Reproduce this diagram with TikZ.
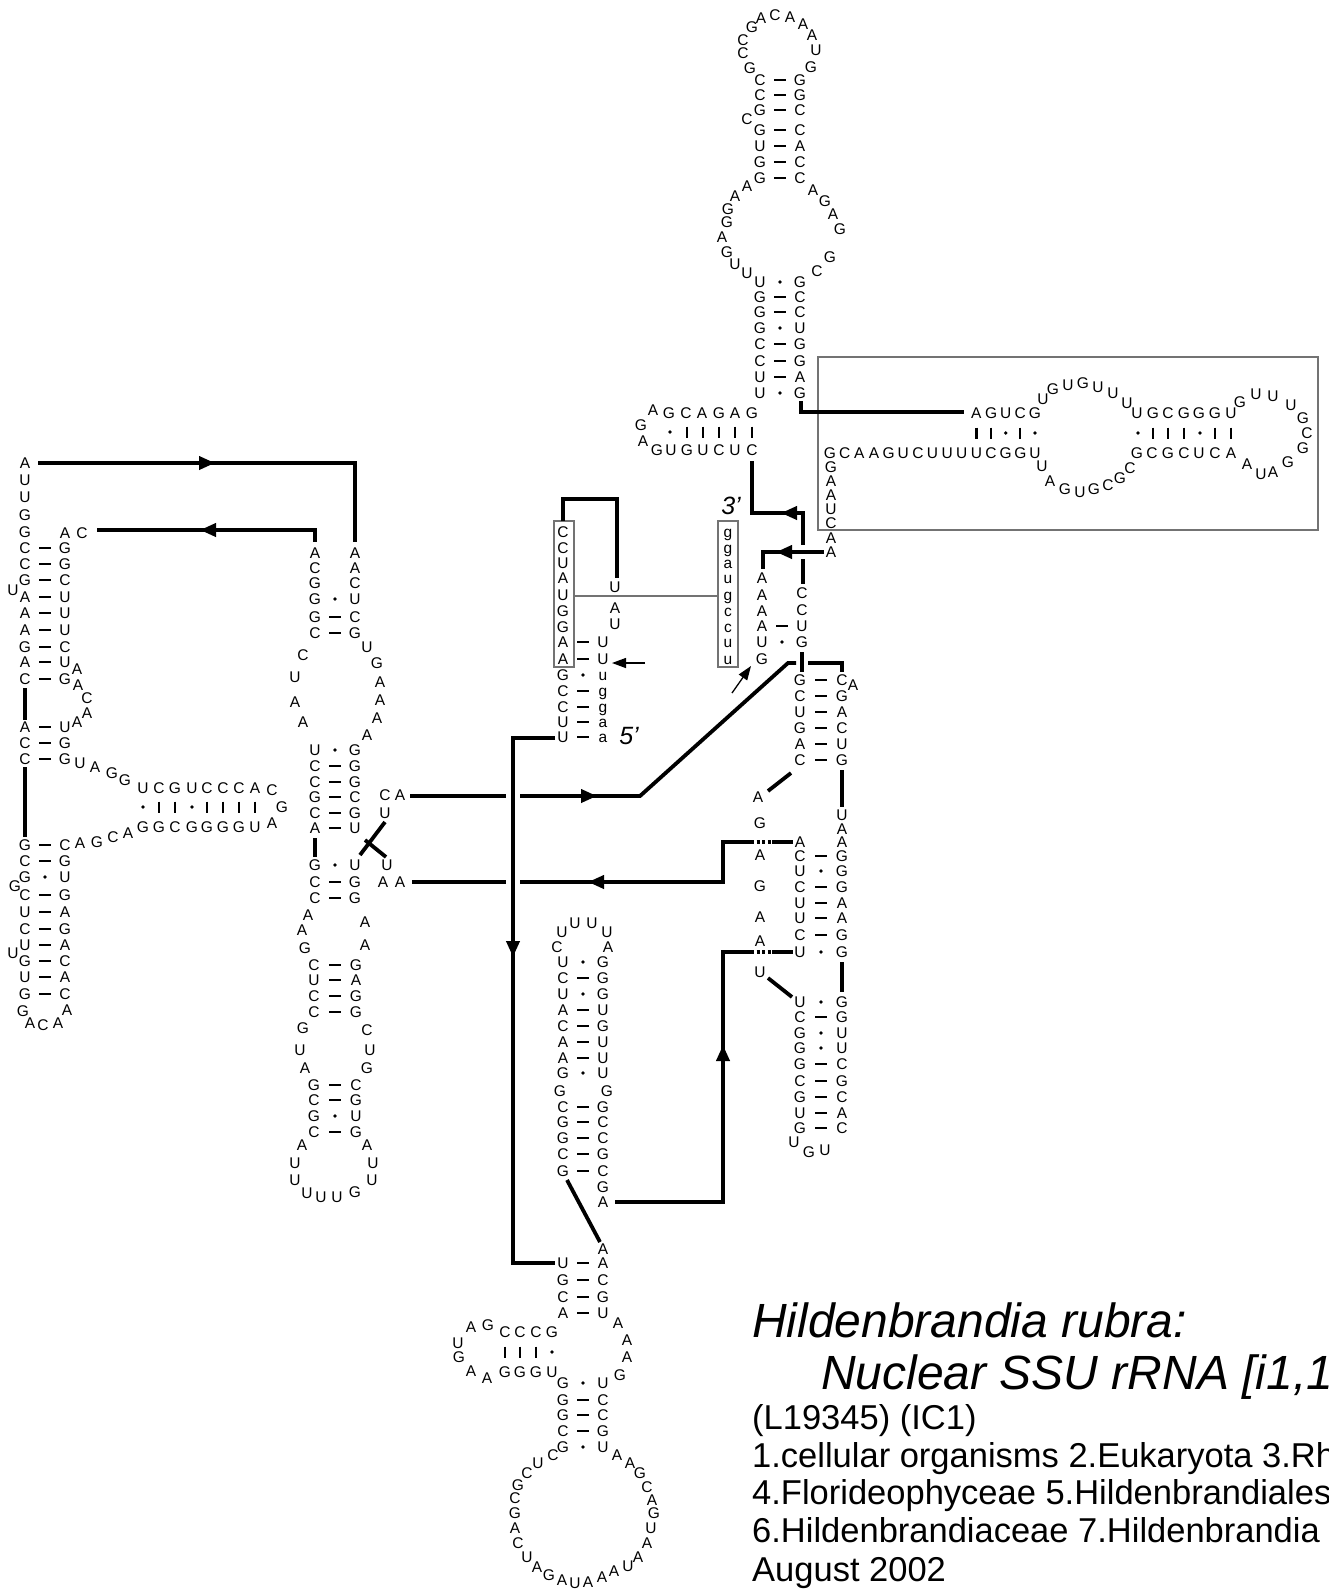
\documentclass[tikz,border=0pt]{standalone}
\usepackage{fontspec}
\setmainfont{Liberation Sans}
\usetikzlibrary{arrows.meta}
\newcounter{ntc}
\tikzset{
  nt/.style={inner sep=0pt,outer sep=0pt,font=\fontsize{15.5}{15.5}\selectfont,text height=11pt,text depth=0pt},
  ln/.style={line width=3.8pt},
  bp/.style={line width=2.2pt},
  gbox/.style={draw=black!55,line width=1.4pt},
  gline/.style={draw=black!55,line width=1.4pt},
  bigtip/.style={-{Triangle[length=16pt,width=13pt]},line width=3.8pt},
  smalltip/.style={-{Triangle[length=14pt,width=10pt]},line width=1.3pt},
  dotseg/.style={line width=3.8pt,dash pattern=on 3pt off 2.5pt},
  lbl/.style={inner sep=0pt,anchor=base west},
}
\newcommand\B[3]{\stepcounter{ntc}\node[nt] (n\arabic{ntc}) at (#1,#2) {#3};}
\newcommand\PR[6]{\B{#1}{#3}{#4}\B{#2}{#3}{#6}\if#5d\draw[bp] ({(#1+#2)/2-6},#3) -- ({(#1+#2)/2+6},#3);\else\fill ({(#1+#2)/2},#3) circle (1.9);\fi}
\newcommand\VB[2]{\draw[bp] (#1,#2-5.5) -- (#1,#2+5.5);}
\newcommand\DT[2]{\fill (#1,#2) circle (1.9);}
\begin{document}
\begin{tikzpicture}[x=1pt,y=-1pt]
\useasboundingbox (0,0) rectangle (1329,1591);
\fill[white] (0,0) rectangle (1329,1591);
% ===== top hairpin =====
\foreach \x/\y/\l in {750/68/G,743/53/C,743/40/C,752/27/G,761/18/A,775/15/C,790/17/A,803/24/A,812/35/A,816/50/U,811/67/G}{\B{\x}{\y}{\l}}
\foreach \y/\l/\m/\r in {80/C/d/G,95/C/d/G,110/G/d/C,130/G/d/C,146/U/d/A,162/G/d/C,178/G/d/C}{\PR{760}{800}{\y}{\l}{\m}{\r}}
\B{747}{119}{C}
\foreach \x/\y/\l in {747/186/A,735/196/A,728/209/G,727/222/G,722/237/A,727/252/G,735/264/U,747/273/U,813/190/A,825/201/G,833/214/A,840/229/G,830/257/G,817/271/C}{\B{\x}{\y}{\l}}
\foreach \y/\l/\m/\r in {282/U/o/G,297/G/d/C,312/G/d/C,328/G/o/U,344/C/d/G,361/C/d/G,377/U/d/A,393/U/o/G}{\PR{760}{800}{\y}{\l}{\m}{\r}}
% ===== helix H1 =====
\B{653}{410}{A}
\foreach \x/\l in {669/G,686/C,702/A,719/G,735/A,752/G}{\B{\x}{413}{\l}}
\foreach \x/\l in {657/G,671/U,687/G,703/U,719/C,735/U,752/C}{\B{\x}{450}{\l}}
\B{641}{425}{G}\B{643}{441}{A}
\DT{670}{432}
\foreach \x in {687,703,719,735,752}{\VB{\x}{432}}
% ===== box helix H2 =====
\draw[gbox] (818,357) rectangle (1318,530);
\foreach \l [count=\i from 0] in {G,C,A,A,G,U,C,U,U,U,U,C,G,G,U}{\B{830+\i*14.64}{453}{\l}}
\foreach \l [count=\i from 10] in {A,G,U,C,G}{\B{830+\i*14.64}{413}{\l}}
\foreach \i in {10,11,13}{\VB{830+\i*14.64}{433}}
\foreach \i in {12,14}{\DT{830+\i*14.64}{433}}
\foreach \x/\l in {1137/U,1153/G,1168/C,1184/G,1199/G,1215/G,1231/U}{\B{\x}{413}{\l}}
\foreach \x/\l in {1137/G,1152/C,1168/G,1184/C,1199/U,1215/C,1231/A}{\B{\x}{453}{\l}}
\foreach \x in {1153,1168,1184,1215,1231}{\VB{\x}{433}}
\foreach \x in {1138,1200}{\DT{\x}{433}}
\foreach \x/\y/\l in {1043/399/U,1053/389/G,1068/385/U,1083/383/G,1098/387/U,1113/393/U,1127/403/U}{\B{\x}{\y}{\l}}
\foreach \x/\y/\l in {1042/466/U,1050/481/A,1065/489/G,1080/492/U,1094/489/G,1108/485/C,1120/478/G,1130/468/C}{\B{\x}{\y}{\l}}
\foreach \x/\y/\l in {1240/402/G,1256/394/U,1273/396/U,1291/405/U,1303/418/G,1307/433/C,1303/448/G,1288/462/G,1273/472/A,1261/474/U,1247/464/A}{\B{\x}{\y}{\l}}
\foreach \y/\l in {467/G,481/A,495/A,509/U,523/C,538/A,552/A}{\B{831}{\y}{\l}}
% line stem2 -> box helix
\coordinate (k1) at (801,401); \coordinate (k2) at (801,412); \coordinate (k3) at (964,412);
\draw[ln] (k1) -- (k2) -- (k3);
% ===== centre: boxes =====
\foreach \y/\l in {532/C,548/C,563/U,578/A,595/U,611/G,627/G}{\B{563}{\y}{\l}}
\foreach \y/\l/\m/\r in {642/A/d/U,659/A/d/U,675/G/o/u,691/C/d/g,707/C/d/g,722/U/d/a,737/U/d/a}{\PR{563}{603}{\y}{\l}{\m}{\r}}
\foreach \y/\l in {587/U,608/A,624/U}{\B{615}{\y}{\l}}
\foreach \y/\l in {532/g,548/g,563/a,578/u,595/g,611/c,627/c,642/u,659/u}{\B{728}{\y}{\l}}
\draw[gbox] (554,521) rectangle (574,667);
\draw[gbox] (718,521) rectangle (738,667);
\coordinate (g1) at (574,596); \coordinate (g2) at (718,596);
\draw[gline] (g1) -- (g2);
\coordinate (t1) at (563,521); \coordinate (t2) at (563,499); \coordinate (t3) at (617,499); \coordinate (t4) at (617,578);
\draw[ln] (t1) -- (t2) -- (t3) -- (t4);
\node[inner sep=0pt,font=\fontsize{25}{25}\selectfont\itshape] (p3) at (731,506) {3’};
\node[inner sep=0pt,font=\fontsize{25}{25}\selectfont\itshape] (p5) at (629,736) {5’};
\coordinate (sa1) at (645,663); \coordinate (sa2) at (612,663);
\draw[smalltip] (sa1) -- (sa2);
\coordinate (sb1) at (732,693); \coordinate (sb2) at (751,666);
\draw[smalltip] (sb1) -- (sb2);
% ===== right stems =====
\foreach \y/\l in {578/A,595/A,611/A}{\B{762}{\y}{\l}}
\B{802}{593}{C}\B{802}{610}{C}
\PR{762}{802}{626}{A}{d}{U}
\PR{762}{802}{642}{U}{o}{G}
\B{762}{659}{G}
\coordinate (h1) at (752,461); \coordinate (h2) at (752,513); \coordinate (h3) at (803,513); \coordinate (h4) at (803,545);
\coordinate (h5) at (803,559); \coordinate (h6) at (803,584);
\draw[ln] (h1) -- (h2) -- (h3) -- (h4);
\draw[ln] (h5) -- (h6);
\draw[bigtip] (797,513) -- (781,513);
\coordinate (b1) at (824,552); \coordinate (b2) at (763,552); \coordinate (b3) at (763,569);
\draw[ln] (b1) -- (b2) -- (b3);
\draw[bigtip] (792,552) -- (776,552);
\coordinate (v1) at (802,652); \coordinate (v2) at (802,672);
\draw[ln] (v1) -- (v2);
\foreach \y/\l/\m/\r in {680/G/d/C,696/C/d/G,712/U/d/A,728/G/d/C,744/A/d/U,760/C/d/G}{\PR{800}{842}{\y}{\l}{\m}{\r}}
\B{853}{685}{A}
\B{758}{797}{A}
\coordinate (w1) at (768,791); \coordinate (w2) at (791,773);
\draw[ln] (w1) -- (w2);
\coordinate (r1) at (842,770); \coordinate (r2) at (842,807);
\draw[ln] (r1) -- (r2);
\B{842}{815}{U}\B{842}{829}{A}\B{842}{842}{A}\B{800}{842}{A}
\foreach \y/\l/\m/\r in {856/C/d/G,871/U/o/G,887/C/d/G,903/U/d/A,918/U/d/A,935/C/d/G,952/U/o/G}{\PR{800}{842}{\y}{\l}{\m}{\r}}
\foreach \y/\l in {823/G,855/A,886/G,917/A,941/A,972/U}{\B{760}{\y}{\l}}
\coordinate (u1) at (768,978); \coordinate (u2) at (792,997);
\draw[ln] (u1) -- (u2);
\coordinate (r3) at (842,962); \coordinate (r4) at (842,992);
\draw[ln] (r3) -- (r4);
\foreach \y/\l/\m/\r in {1002/U/o/G,1017/C/d/G,1033/G/o/U,1048/G/o/U,1064/G/d/C,1081/C/d/G,1097/G/d/C,1113/U/d/A,1128/G/d/C}{\PR{800}{842}{\y}{\l}{\m}{\r}}
\B{794}{1142}{U}\B{809}{1152}{G}\B{825}{1150}{U}
% ===== lower middle hairpin =====
\foreach \x/\y/\l in {557/947/C,562/932/U,575/923/U,592/923/U,607/932/U,608/947/A}{\B{\x}{\y}{\l}}
\foreach \y/\l/\m/\r in {962/U/o/G,978/C/d/G,994/U/o/G,1010/A/d/U,1026/C/d/G,1042/A/d/U,1058/A/d/U,1073/G/o/U,1107/C/d/G,1122/G/d/C,1138/G/d/C,1154/C/d/G,1171/G/d/C}{\PR{563}{603}{\y}{\l}{\m}{\r}}
\B{560}{1091}{G}\B{607}{1091}{G}
\B{603}{1187}{G}\B{603}{1202}{A}
\coordinate (dg1) at (567,1180); \coordinate (dg2) at (600,1242);
\draw[ln] (dg1) -- (dg2);
\B{603}{1249}{A}
% ===== bottom =====
\foreach \y/\l/\m/\r in {1263/U/d/A,1280/G/d/C,1297/C/d/G,1313/A/d/U}{\PR{563}{603}{\y}{\l}{\m}{\r}}
\foreach \x/\y/\l in {618/1323/A,627/1340/A,627/1357/A,620/1375/G}{\B{\x}{\y}{\l}}
\foreach \x/\l in {505/C,520/C,536/C,552/G}{\B{\x}{1332}{\l}}
\foreach \x/\l in {505/G,520/G,536/G,552/U}{\B{\x}{1372}{\l}}
\foreach \x in {505,520,536}{\VB{\x}{1352}}
\DT{552}{1352}
\foreach \x/\y/\l in {488/1325/G,471/1327/A,458/1343/U,459/1357/G,471/1371/A,487/1378/A}{\B{\x}{\y}{\l}}
\foreach \y/\l/\m/\r in {1383/G/o/U,1400/G/d/C,1415/G/d/C,1431/C/d/G,1447/G/o/U}{\PR{563}{603}{\y}{\l}{\m}{\r}}
\foreach \x/\y/\l in {553/1455/C,538/1463/U,527/1473/C,518/1485/G,515/1498/C,515/1513/G,515/1528/A,518/1543/C,527/1557/U,537/1567/A,549/1575/G,562/1580/A,575/1583/U,588/1582/A,602/1577/A,614/1571/A,628/1566/U,638/1557/A,647/1543/A,651/1528/U,654/1513/G,652/1500/A,647/1487/C,640/1473/G,630/1463/A,617/1455/A}{\B{\x}{\y}{\l}}
% ===== left helix =====
\foreach \y/\l in {463/A,480/U,497/U,515/G,532/G}{\B{25}{\y}{\l}}
\B{65}{533}{A}\B{82}{533}{C}
\foreach \y/\l/\m/\r in {548/C/d/G,564/C/d/G,580/G/d/C,597/A/d/U,613/A/d/U,630/A/d/U,647/G/d/C,662/A/d/U,679/C/d/G,727/A/d/U,743/C/d/G,759/C/d/G}{\PR{25}{65}{\y}{\l}{\m}{\r}}
\B{13}{590}{U}
\foreach \x/\y/\l in {77/669/A,78/685/A,87/698/C,87/713/A,77/722/A}{\B{\x}{\y}{\l}}
\foreach \x/\y/\l in {80/763/U,95/767/A,112/773/G,125/780/G}{\B{\x}{\y}{\l}}
\foreach \x/\l in {143/U,159/C,175/G,192/U,207/C,223/C,239/C,255/A}{\B{\x}{788}{\l}}
\foreach \x/\l in {143/G,159/G,175/C,192/G,207/G,223/G,239/G,255/U}{\B{\x}{827}{\l}}
\foreach \x in {159,175,207,223,239,255}{\VB{\x}{807}}
\foreach \x in {143,192}{\DT{\x}{807}}
\B{272}{790}{C}\B{282}{807}{G}\B{272}{823}{A}
\foreach \x/\y/\l in {128/833/A,113/837/C,97/842/G,80/843/A}{\B{\x}{\y}{\l}}
\foreach \y/\l/\m/\r in {845/G/d/C,861/C/d/G,877/G/o/U,895/C/d/G,912/U/d/A,929/C/d/G,945/U/d/A,961/G/d/C,977/U/d/A,994/G/d/C}{\PR{25}{65}{\y}{\l}{\m}{\r}}
\B{15}{886}{G}\B{13}{953}{U}
\foreach \x/\y/\l in {23/1011/G,30/1023/A,43/1025/C,58/1023/A,67/1010/A}{\B{\x}{\y}{\l}}
\coordinate (lv1) at (25,688); \coordinate (lv2) at (25,720);
\coordinate (lv3) at (25,767); \coordinate (lv4) at (25,837);
\draw[ln] (lv1) -- (lv2); \draw[ln] (lv3) -- (lv4);
% ===== middle-left stems =====
\foreach \y/\l in {553/A,568/C,583/G}{\B{315}{\y}{\l}}
\foreach \y/\l in {553/A,568/A,583/C}{\B{355}{\y}{\l}}
\foreach \y/\l/\m/\r in {599/G/o/U,617/G/d/C,633/C/d/G}{\PR{315}{355}{\y}{\l}{\m}{\r}}
\foreach \x/\y/\l in {303/655/C,295/677/U,295/702/A,303/722/A,367/647/U,377/663/G,380/682/A,380/700/A,377/718/A,367/735/A}{\B{\x}{\y}{\l}}
\foreach \y/\l/\m/\r in {750/U/o/G,766/C/d/G,782/C/d/G,797/G/d/C,813/C/d/G,828/A/d/U}{\PR{315}{355}{\y}{\l}{\m}{\r}}
\B{385}{795}{C}\B{400}{795}{A}\B{385}{813}{U}
\coordinate (x1) at (365,840); \coordinate (x2) at (386,857);
\coordinate (x3) at (385,822); \coordinate (x4) at (360,855);
\draw[ln] (x1) -- (x2); \draw[ln] (x3) -- (x4);
\coordinate (mv1) at (315,838); \coordinate (mv2) at (315,857);
\draw[ln] (mv1) -- (mv2);
\foreach \y/\l/\m/\r in {865/G/o/U,882/C/d/G,898/C/d/G}{\PR{315}{355}{\y}{\l}{\m}{\r}}
\B{387}{865}{U}\B{383}{882}{A}\B{400}{882}{A}
\foreach \x/\y/\l in {308/915/A,302/930/A,305/948/G,365/922/A,365/945/A}{\B{\x}{\y}{\l}}
\foreach \y/\l/\m/\r in {965/C/d/G,980/U/d/A,996/C/d/G,1012/C/d/G}{\PR{314}{356}{\y}{\l}{\m}{\r}}
\foreach \x/\y/\l in {303/1028/G,300/1050/U,305/1068/A,367/1030/C,370/1050/U,367/1068/G}{\B{\x}{\y}{\l}}
\foreach \y/\l/\m/\r in {1085/G/d/C,1100/C/d/G,1116/G/o/U,1132/C/d/G}{\PR{314}{356}{\y}{\l}{\m}{\r}}
\foreach \x/\y/\l in {302/1145/A,295/1163/U,295/1180/U,307/1193/U,321/1197/U,337/1197/U,355/1192/G,372/1180/U,373/1163/U,367/1145/A}{\B{\x}{\y}{\l}}
% ===== long connectors =====
\coordinate (L1a) at (38,463); \coordinate (L1b) at (355,463); \coordinate (L1c) at (355,542);
\draw[ln] (L1a) -- (L1b) -- (L1c);
\draw[bigtip] (198,463) -- (215,463);
\coordinate (L2a) at (97,530); \coordinate (L2b) at (315,530); \coordinate (L2c) at (315,542);
\draw[ln] (L2a) -- (L2b) -- (L2c);
\draw[bigtip] (217,530) -- (200,530);
\coordinate (ca1) at (410,796); \coordinate (ca2) at (506,796); \coordinate (ca3) at (520,796);
\coordinate (ca4) at (640,796); \coordinate (ca5) at (788,663); \coordinate (ca6) at (796,663);
\coordinate (ca7) at (808,663); \coordinate (ca8) at (842,663); \coordinate (ca9) at (842,672);
\draw[ln] (ca1) -- (ca2);
\draw[ln] (ca3) -- (ca4) -- (ca5) -- (ca6);
\draw[ln] (ca7) -- (ca8) -- (ca9);
\draw[bigtip] (580,796) -- (597,796);
\coordinate (aa1) at (412,882); \coordinate (aa2) at (506,882); \coordinate (aa3) at (520,882);
\coordinate (aa4) at (723,882); \coordinate (aa5) at (723,842); \coordinate (aa6) at (751,842);
\coordinate (aa7) at (772,842); \coordinate (aa8) at (793,842);
\draw[ln] (aa1) -- (aa2);
\draw[ln] (aa3) -- (aa4) -- (aa5) -- (aa6);
\draw[dotseg] (aa6) -- (aa7);
\draw[ln] (aa7) -- (aa8);
\draw[bigtip] (605,882) -- (588,882);
\coordinate (vv1) at (555,738); \coordinate (vv2) at (513,738); \coordinate (vv3) at (513,1263); \coordinate (vv4) at (555,1263);
\draw[ln] (vv1) -- (vv2) -- (vv3) -- (vv4);
\draw[bigtip] (513,940) -- (513,957);
\coordinate (up1) at (615,1202); \coordinate (up2) at (723,1202); \coordinate (up3) at (723,952);
\coordinate (up4) at (751,952); \coordinate (up5) at (772,952); \coordinate (up6) at (793,952);
\draw[ln] (up1) -- (up2) -- (up3) -- (up4);
\draw[dotseg] (up4) -- (up5);
\draw[ln] (up5) -- (up6);
\draw[bigtip] (723,1062) -- (723,1045);
% ===== caption =====
\node[lbl,font=\fontsize{48}{48}\selectfont\itshape] (cap1) at (752,1337) {Hildenbrandia rubra:};
\node[lbl,font=\fontsize{48}{48}\selectfont\itshape] (cap2) at (821,1389) {Nuclear SSU rRNA [i1,1};
\node[lbl,font=\fontsize{34.5}{34.5}\selectfont] (cap3) at (752,1429) {(L19345) (IC1)};
\node[lbl,font=\fontsize{34.5}{34.5}\selectfont] (cap4) at (752,1467) {1.cellular organisms 2.Eukaryota 3.Rho};
\node[lbl,font=\fontsize{34.5}{34.5}\selectfont] (cap5) at (752,1504) {4.Florideophyceae 5.Hildenbrandiales};
\node[lbl,font=\fontsize{34.5}{34.5}\selectfont] (cap6) at (752,1542) {6.Hildenbrandiaceae 7.Hildenbrandia};
\node[lbl,font=\fontsize{34.5}{34.5}\selectfont] (cap7) at (752,1581) {August 2002};
\end{tikzpicture}
\end{document}
